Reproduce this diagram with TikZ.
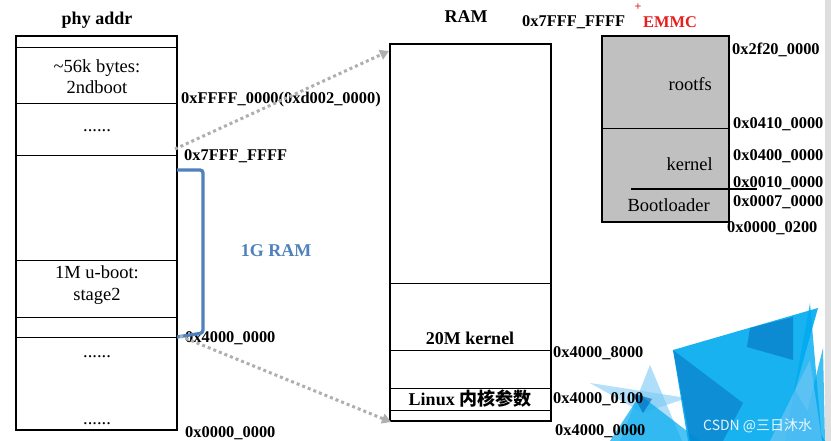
\documentclass[tikz,border=0pt]{standalone}
\usepackage{fontspec}
\setmainfont{Liberation Serif}
\newfontfamily\cjkfont{Noto Sans CJK SC}
\newfontfamily\wmfont{Noto Sans CJK SC}
\usetikzlibrary{arrows.meta}
\definecolor{ramblue}{RGB}{79,129,189}
\definecolor{dotgray}{RGB}{175,175,175}
\definecolor{emmcgray}{RGB}{192,192,192}
\definecolor{emmcred}{RGB}{230,30,30}
\definecolor{cyanA}{RGB}{0,170,240}
\definecolor{cyanDark}{RGB}{0,100,180}
\definecolor{cyanLight}{RGB}{120,200,245}
\definecolor{edgegray}{RGB}{222,222,222}
\begin{document}
\begin{tikzpicture}[x=1pt,y=-1pt,
  lbl/.style={font=\fontsize{16.4}{18}\selectfont\bfseries, inner sep=0, anchor=base west},
  txt/.style={font=\fontsize{18.5}{20}\selectfont, inner sep=0, anchor=base},
  ttl/.style={font=\fontsize{18}{20}\selectfont\bfseries, inner sep=0, anchor=base},
  outerbox/.style={draw=black, line width=2pt},
  innerline/.style={draw=black, line width=1pt},
  dotarrow/.style={draw=dotgray, line width=3pt, dash pattern=on 3pt off 3pt,
    -{Triangle[length=9pt,width=10pt,fill=dotgray]}},
  tri/.style={draw=none}]
\useasboundingbox (0,0) rectangle (831,441);
\fill[white] (0,0) rectangle (831,441);
% right edge strip
\fill[edgegray] (825,0) rectangle (831,441);
% decorative triangles
\fill[cyanLight, opacity=0.6] (650,365) -- (620,441) -- (682,441) -- cycle;
\fill[cyanLight, opacity=0.55] (590,383) -- (687,398) -- (643,413) -- cycle;
\fill[cyanA, opacity=0.7] (640,395) -- (700,441) -- (610,441) -- cycle;
\fill[cyanDark, opacity=0.6] (632,393) -- (652,399) -- (643,413) -- cycle;
\fill[cyanA, opacity=0.9] (673,350) -- (818,308) -- (795,390) -- (825,441) -- (688,441) -- cycle;
\fill[cyanDark, opacity=0.45] (673,350) -- (743,403) -- (723,441) -- (690,441) -- cycle;
\fill[cyanDark, opacity=0.5] (750,328) -- (793,317) -- (793,360) -- (747,347) -- cycle;
\fill[cyanA, opacity=0.8] (810,303) -- (822,441) -- (785,441) -- cycle;
\fill[cyanA, opacity=0.75] (823,348) -- (825,441) -- (800,441) -- cycle;
\fill[cyanLight, opacity=0.6] (810,360) -- (822,441) -- (770,441) -- cycle;
% ---------- left box (phy addr)
\coordinate (L1) at (16,36);
\coordinate (L2) at (177,430);
\draw[outerbox] (L1) rectangle (L2);
\foreach \yy in {48,104,156,261,317,337} \draw[innerline] (16,\yy) -- (177,\yy);
\node[ttl] (phy) at (97,25) {phy addr};
\node[txt] (t56k) at (97,73) {\textasciitilde56k bytes:};
\node[txt] (t2nd) at (97,94) {2ndboot};
\node[txt] (dots1) at (97,132) {......};
\node[txt] (tub) at (97,278) {1M u-boot:};
\node[txt] (tst) at (97,300) {stage2};
\node[txt] (dots2) at (97,357) {......};
\node[txt] (dots3) at (97,424) {......};
\node[lbl] (aF) at (181,104) {0xFFFF\_0000(0xd002\_0000)};
\node[lbl] (a7) at (184,161) {0x7FFF\_FFFF};
\node[lbl] (a4) at (185,342) {0x4000\_0000};
\node[lbl] (a0) at (185,437) {0x0000\_0000};
% bracket
\coordinate (b1) at (177,170);
\coordinate (b2) at (203,170);
\coordinate (b3) at (203,333);
\coordinate (b4) at (177,337);
\draw[ramblue, line width=3.3pt, rounded corners=3pt] (b1) -- (b2) -- (b3) -- (b4);
\node[ttl, text=ramblue] (g1) at (276,257) {1G RAM};
% ---------- RAM box
\draw[outerbox] (390,44) rectangle (551,421);
\foreach \yy in {283,350,388,410} \draw[innerline] (390,\yy) -- (551,\yy);
\node[ttl] (ram) at (466,23) {RAM};
\node[ttl] (k20) at (470,344) {20M kernel};
\node[ttl] (lin) at (470,405) {Linux {\cjkfont\bfseries 内核参数}};
\node[lbl] (r7) at (522,27) {0x7FFF\_FFFF};
\node[lbl] (r8) at (553,357) {0x4000\_8000};
\node[lbl] (r1) at (553,403) {0x4000\_0100};
\node[lbl] (r0) at (555,435) {0x4000\_0000};
% arrows
\coordinate (s1) at (175,149);
\coordinate (e1) at (389,51);
\coordinate (s2) at (180,336);
\coordinate (e2) at (391,422);
\draw[dotarrow] (s1) -- (e1);
\draw[dotarrow] (s2) -- (e2);
% ---------- EMMC
\draw[fill=emmcgray, draw=black, line width=2.7pt] (602,36) rectangle (729,222);
\draw[innerline] (602,129) -- (729,129);
\draw[line width=1.5pt] (631,189) -- (757,189);
\node[txt, anchor=base east] (rfs) at (712,91) {rootfs};
\node[txt, anchor=base east] (ker) at (713,171) {kernel};
\node[txt, anchor=base east] (bl) at (710,212) {Bootloader};
\node[ttl, anchor=base west, text=emmcred, font=\fontsize{16.4}{18}\selectfont\bfseries] (emmc) at (643,28) {EMMC};
\node[inner sep=0, text=emmcred, font=\fontsize{12}{12}\selectfont\bfseries] (plus) at (638,7) {+};
\node[lbl] (e2f) at (732,55) {0x2f20\_0000};
\node[lbl] (e41) at (733,129) {0x0410\_0000};
\node[lbl] (e40) at (733,161) {0x0400\_0000};
\node[lbl] (e01) at (733,188) {0x0010\_0000};
\node[lbl] (e07) at (733,207) {0x0007\_0000};
\node[lbl] (e02) at (727,233) {0x0000\_0200};
% watermark
\node[inner sep=0, anchor=base west, text=white, opacity=0.9, font=\wmfont\fontsize{14}{16}\selectfont] (wm) at (703,430) {CSDN @三日沐水};
\end{tikzpicture}
\end{document}
